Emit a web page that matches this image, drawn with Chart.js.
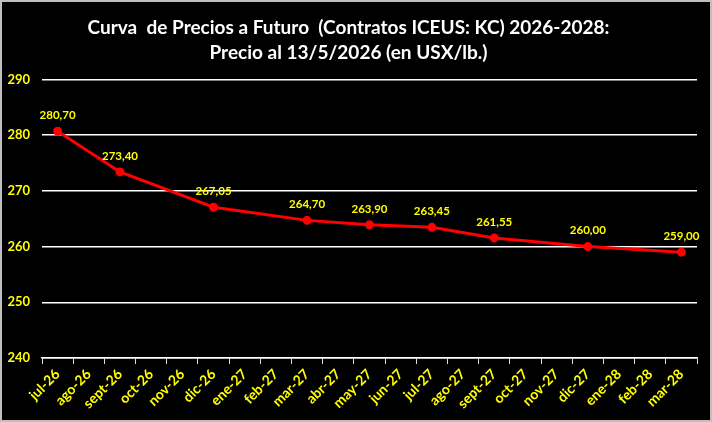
<!DOCTYPE html>
<html>
<head>
<meta charset="utf-8">
<script src="https://cdn.jsdelivr.net/npm/chart.js@4"></script>
<style>
  html, body { margin: 0; padding: 0; background: #000; }
  #wrap { width: 712px; height: 422px; }
</style>
</head>
<body>
<div id="wrap"><canvas id="curveChart"></canvas></div>
<script>
// Datos
const months = ['jul-26', 'ago-26', 'sept-26', 'oct-26', 'nov-26', 'dic-26', 'ene-27', 'feb-27',
  'mar-27', 'abr-27', 'may-27', 'jun-27', 'jul-27', 'ago-27', 'sept-27', 'oct-27', 'nov-27',
  'dic-27', 'ene-28', 'feb-28', 'mar-28'];
const prices = [280.70, null, 273.40, null, null, 267.05, null, null,
  264.70, null, 263.90, null, 263.45, null, 261.55, null, null,
  260.00, null, null, 259.00];
const yTicks = [240, 250, 260, 270, 280, 290];

const fontFam = 'Lato, "Open Sans", sans-serif';

// fondo negro y borde gris
const backdrop = {
  id: 'backdrop',
  beforeDraw(chart) {
    const ctx = chart.ctx;
    ctx.save();
    ctx.fillStyle = '#000';
    ctx.fillRect(0, 0, chart.width, chart.height);
    ctx.strokeStyle = '#bfbfbf';
    ctx.lineWidth = 2;
    ctx.strokeRect(1, 1, chart.width - 2, chart.height - 2);
    ctx.restore();
  }
};

// etiquetas de valores sobre los puntos
const valueLabels = {
  id: 'valueLabels',
  afterDatasetsDraw(chart) {
    const ctx = chart.ctx;
    const meta = chart.getDatasetMeta(0);
    ctx.save();
    ctx.fillStyle = '#ffff00';
    ctx.font = 'bold 11.5px ' + fontFam;
    ctx.textAlign = 'center';
    ctx.textBaseline = 'middle';
    meta.data.forEach((pt, i) => {
      const v = prices[i];
      if (v === null) return;
      ctx.fillText(v.toFixed(2).replace('.', ','), pt.x, pt.y - 16);
    });
    ctx.restore();
  }
};

const chart = new Chart(document.getElementById('curveChart'), {
  type: 'line',
  data: {
    labels: months,
    datasets: [{
      data: prices,
      borderColor: '#ff0000',
      backgroundColor: '#ff0000',
      borderWidth: 3,
      pointRadius: 3,
      pointHoverRadius: 3,
      spanGaps: true,
      tension: 0
    }]
  },
  options: {
    responsive: true,
    maintainAspectRatio: false,
    animation: false,
    layout: { padding: { left: 0, right: 15, top: 0, bottom: 0 } },
    plugins: {
      legend: { display: false },
      tooltip: { enabled: false },
      title: {
        display: true,
        text: ['Curva  de Precios a Futuro  (Contratos ICEUS: KC) 2026-2028:',
          'Precio al 13/5/2026 (en USX/lb.)'],
        color: '#ffffff',
        font: { family: fontFam, size: 19, weight: 'bold', lineHeight: 1.3 },
        padding: { top: 16, bottom: 14 }
      }
    },
    scales: {
      x: {
        offset: true,
        grid: {
          display: true,
          drawOnChartArea: false,
          drawTicks: true,
          tickLength: 6,
          color: '#d9d9d9',
          offset: true
        },
        border: { display: true, color: '#ffffff', width: 1.5 },
        ticks: {
          color: '#ffff00',
          font: { family: fontFam, size: 14, weight: 'bold' },
          minRotation: 45,
          maxRotation: 45,
          autoSkip: false,
          padding: 2
        },
        afterFit(scale) { scale.height = 64; }
      },
      y: {
        min: 240,
        max: 290,
        afterBuildTicks(scale) { scale.ticks = yTicks.map(v => ({ value: v })); },
        grid: {
          color: '#ffffff',
          lineWidth: 1.5,
          drawTicks: false
        },
        border: { display: false },
        ticks: {
          color: '#ffff00',
          font: { family: fontFam, size: 13, weight: 'bold' },
          padding: 12
        },
        afterFit(scale) { scale.width = 42; }
      }
    }
  },
  plugins: [backdrop, valueLabels]
});
</script>
</body>
</html>
